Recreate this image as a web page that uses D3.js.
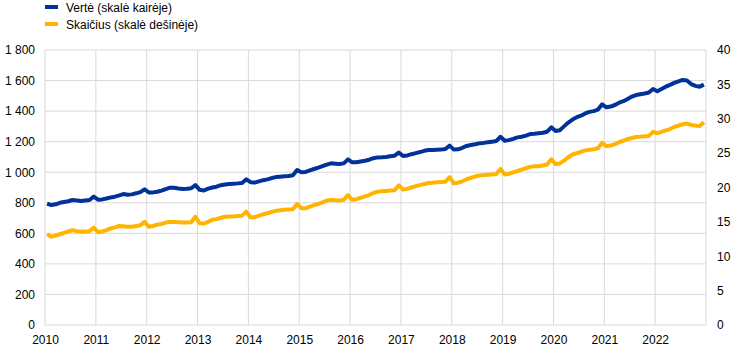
<!DOCTYPE html>
<html><head><meta charset="utf-8">
<script src="https://cdn.jsdelivr.net/npm/d3@7"></script>
<style>body{margin:0;background:#fff}svg{display:block;font-family:"Liberation Sans",Arial,sans-serif}</style>
</head><body><svg id="c" width="745" height="353"></svg>
<script>
const years = [2010,2011,2012,2013,2014,2015,2016,2017,2018,2019,2020,2021,2022];
const leftTicks = [0,200,400,600,800,1000,1200,1400,1600,1800];
const rightTicks = [0,5,10,15,20,25,30,35,40];
const seriesNames = ["Vertė (skalė kairėje)", "Skaičius (skalė dešinėje)"];
// monthly values Jan 2010 - Dec 2022
const valueLeft = [
 795,785,790,800,805,810,818,815,812,815,818,840,
 820,822,828,835,840,848,857,852,855,862,870,888,
 868,868,872,880,890,899,898,893,890,892,895,916,
 885,880,893,900,905,915,920,923,925,927,930,953,
 935,932,940,948,953,962,968,971,973,975,980,1014,
 1000,1002,1012,1021,1030,1040,1050,1058,1056,1054,1058,1084,
 1065,1065,1070,1075,1082,1092,1097,1098,1100,1104,1108,1128,
 1106,1110,1118,1125,1132,1140,1145,1145,1147,1148,1152,1174,
 1148,1150,1160,1172,1178,1183,1189,1192,1196,1200,1204,1232,
 1206,1210,1218,1228,1232,1240,1250,1252,1255,1258,1265,1294,
 1270,1275,1300,1325,1345,1360,1370,1385,1395,1400,1410,1444,
 1425,1430,1440,1455,1465,1480,1495,1505,1510,1515,1522,1545,
 1530,1545,1560,1572,1585,1595,1604,1600,1577,1565,1560,1573
];
const countRight = [
 13.2,12.85,13.0,13.2,13.4,13.6,13.8,13.65,13.6,13.6,13.65,14.15,
 13.5,13.6,13.8,14.05,14.2,14.4,14.35,14.3,14.3,14.4,14.5,15.0,
 14.3,14.4,14.6,14.7,14.9,15.0,15.0,14.95,14.9,14.9,14.95,15.75,
 14.8,14.75,15.0,15.3,15.4,15.6,15.75,15.8,15.8,15.85,15.9,16.5,
 15.65,15.7,15.9,16.1,16.25,16.45,16.6,16.7,16.75,16.8,16.85,17.6,
 17.0,17.0,17.2,17.45,17.6,17.85,18.1,18.2,18.15,18.1,18.2,18.9,
 18.2,18.3,18.5,18.7,18.9,19.2,19.4,19.45,19.5,19.55,19.6,20.3,
 19.7,19.8,20.0,20.2,20.35,20.5,20.65,20.7,20.75,20.8,20.85,21.5,
 20.6,20.7,20.9,21.2,21.4,21.6,21.75,21.8,21.85,21.9,21.95,22.7,
 21.9,22.0,22.2,22.4,22.6,22.8,23.0,23.1,23.1,23.2,23.35,24.1,
 23.4,23.5,23.9,24.4,24.8,25.0,25.2,25.4,25.5,25.55,25.7,26.5,
 26.0,26.1,26.3,26.6,26.8,27.05,27.2,27.35,27.4,27.45,27.5,28.1,
 27.9,28.1,28.3,28.5,28.8,29.0,29.2,29.3,29.1,29.0,28.95,29.5
];
const colors = ["#003299","#FFB400"];

const svg = d3.select("#c");
const L = 45, R = 706, T = 50, B = 325;
const x = d3.scaleLinear().domain([2010, 2023]).range([L, R]);
const yL = d3.scaleLinear().domain([0,1800]).range([B, T]);
const yR = d3.scaleLinear().domain([0,40]).range([B, T]);
const grid = "#d9d9d9";

// horizontal gridlines
svg.append("g").selectAll("line").data(leftTicks).join("line")
  .attr("x1", L).attr("x2", R).attr("y1", d=>yL(d)).attr("y2", d=>yL(d))
  .attr("stroke", grid).attr("stroke-width", 1);
// vertical gridlines
svg.append("g").selectAll("line").data(years.concat([2023])).join("line")
  .attr("x1", d=>x(d)).attr("x2", d=>x(d)).attr("y1", T).attr("y2", B)
  .attr("stroke", grid).attr("stroke-width", 1);

const fmt = d => d >= 1000 ? d3.format(",")(d).replace(",", " ") : String(d);
// left axis
const gl = svg.append("g").attr("transform", `translate(${L},0)`)
  .call(d3.axisLeft(yL).tickValues(leftTicks).tickFormat(fmt).tickSize(0).tickPadding(10));
// right axis
const gr = svg.append("g").attr("transform", `translate(${R},0)`)
  .call(d3.axisRight(yR).tickValues(rightTicks).tickSize(0).tickPadding(11));
// bottom axis
const gb = svg.append("g").attr("transform", `translate(0,${B})`)
  .call(d3.axisBottom(x).tickValues(years).tickFormat(d3.format("d")).tickSize(0).tickPadding(10));
[gl,gr,gb].forEach(g=>{
  g.select(".domain").remove();
  g.selectAll("text").attr("font-size", 12).attr("fill", "#000").attr("font-family", '"Liberation Sans",Arial,sans-serif');
});

const xm = i => x(2010 + (i + 0.5) / 12);
const lineL = d3.line().x((d,i)=>xm(i)).y(d=>yL(d));
const lineR = d3.line().x((d,i)=>xm(i)).y(d=>yR(d));
svg.append("path").datum(countRight).attr("d", lineR)
  .attr("fill","none").attr("stroke",colors[1]).attr("stroke-width",4).attr("stroke-linejoin","round");
svg.append("path").datum(valueLeft).attr("d", lineL)
  .attr("fill","none").attr("stroke",colors[0]).attr("stroke-width",4).attr("stroke-linejoin","round");

// legend
const lg = svg.append("g");
seriesNames.forEach((n,i)=>{
  lg.append("rect").attr("x",45).attr("y",5+i*17).attr("width",13).attr("height",4).attr("fill",colors[i]);
  lg.append("text").attr("x",66).attr("y",12+i*17).attr("font-size",12).attr("fill","#000").text(n);
});
</script></body></html>
